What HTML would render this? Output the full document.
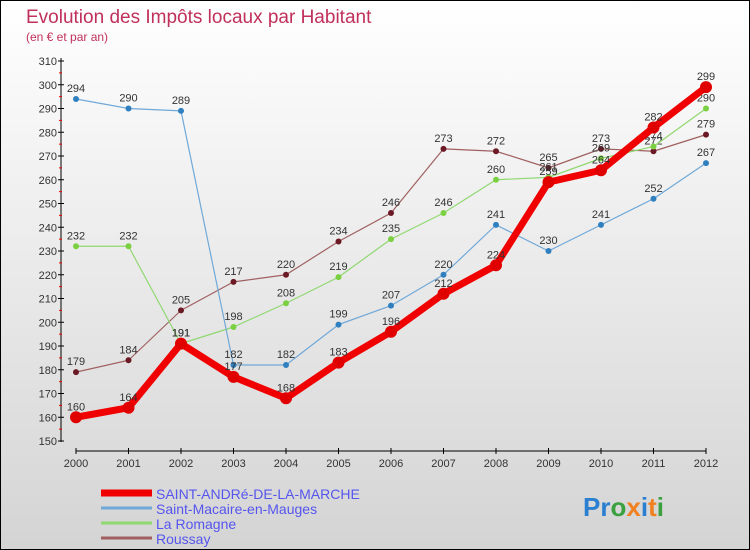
<!DOCTYPE html>
<html><head><meta charset="utf-8"><style>
body{margin:0}
#wrap{width:748px;height:548px;border:1px solid #000;background:linear-gradient(#fff,#d4d4d4);position:relative;font-family:"Liberation Sans",sans-serif;overflow:hidden}
svg text{font-family:"Liberation Sans",sans-serif}
</style></head><body>
<div id="wrap">
<svg id="chart" width="748" height="548">
<text x="25" y="22" font-size="19" fill="#c0305a">Evolution des Impôts locaux par Habitant</text>
<text x="25" y="40" font-size="12" fill="#c0305a">(en € et par an)</text>
<g id="axes"></g><g id="series"></g><g id="legend"></g>
<text x="582" y="515" font-size="26" font-weight="bold"><tspan fill="#2a7fd0">Pr</tspan><tspan fill="#3aa040">o</tspan><tspan fill="#f08020">x</tspan><tspan fill="#2a7fd0">i</tspan><tspan fill="#f08020">t</tspan><tspan fill="#3aa040">i</tspan></text>
</svg></div>
<script>
const years=[2000,2001,2002,2003,2004,2005,2006,2007,2008,2009,2010,2011,2012];
const yTicks=[150,160,170,180,190,200,210,220,230,240,250,260,270,280,290,300,310];
const sAndre=[160,164,191,177,168,183,196,212,224,259,264,282,299];
const sMacaire=[294,290,289,182,182,199,207,220,241,230,241,252,267];
const sRomagne=[232,232,191,198,208,219,235,246,260,261,269,274,290];
const sRoussay=[179,184,205,217,220,234,246,273,272,265,273,272,279];
const NS="http://www.w3.org/2000/svg";
const x=i=>75+i*(705-75)/12;
const y=v=>440-(v-150)*(380/160);
function mk(tag,attrs,parent,txt){const e=document.createElementNS(NS,tag);for(const k in attrs)e.setAttribute(k,attrs[k]);if(txt!=null)e.textContent=txt;parent.appendChild(e);return e;}
const ax=document.getElementById('axes');
let a=mk('line',{x1:60,y1:57,x2:60,y2:441,stroke:'#000'},ax);


a=mk('line',{x1:75,y1:450,x2:705,y2:450,stroke:'#000'},ax);


yTicks.forEach(t=>{
 mk('line',{x1:57,x2:63,y1:y(t),y2:y(t),stroke:'#000'},ax);
 if(t<310)mk('line',{x1:58,x2:61,y1:y(t+5),y2:y(t+5),stroke:'#e00'},ax);
 const l=mk('text',{x:56,y:y(t)+4,'font-size':11,'text-anchor':'end',fill:'#333'},ax,t);
 
 
});
years.forEach((yr,i)=>{
 mk('line',{x1:x(i),x2:x(i),y1:447,y2:453,stroke:'#000'},ax);
 const l=mk('text',{x:x(i),y:466,'font-size':11,'text-anchor':'middle',fill:'#333'},ax,yr);
 
 
});
const series=[
 {name:'Roussay',d:sRoussay,c:'#6b1a25',lc:'#a06060',w:1.2,r:3},
 {name:'La Romagne',d:sRomagne,c:'#7ad040',lc:'#90d870',w:1.2,r:3},
 {name:'Saint-Macaire-en-Mauges',d:sMacaire,c:'#3080c0',lc:'#70a8d8',w:1.2,r:3},
 {name:'SAINT-ANDRé-DE-LA-MARCHE',d:sAndre,c:'#e00000',lc:'#f00000',w:7,r:6}
];
const sg=document.getElementById('series');
series.forEach(s=>{
 const g=mk('g',{},sg);
 
 
 const p=mk('polyline',{points:s.d.map((v,i)=>x(i)+','+y(v)).join(' '),fill:'none',stroke:s.lc,'stroke-width':s.w,'stroke-linejoin':'round'},g);
 
 
 s.d.forEach((v,i)=>{
  const c=mk('circle',{cx:x(i),cy:y(v),r:s.r,fill:s.c},g);
  
  
  const t=mk('text',{x:x(i),y:y(v)-7,'font-size':11,'text-anchor':'middle',fill:'#333'},g,v);
  
  
 });
});
const lg=document.getElementById('legend');
[...series].reverse().forEach((s,i)=>{
 const yy=492+i*15;
 const l=mk('line',{x1:100,x2:151,y1:yy,y2:yy,stroke:s.lc,'stroke-width':i==0?7:3},lg);
 
 
 const t=mk('text',{x:155,y:yy+6,'font-size':14,fill:'#5555ee'},lg,s.name);
 
 
});
</script>
</body></html>
